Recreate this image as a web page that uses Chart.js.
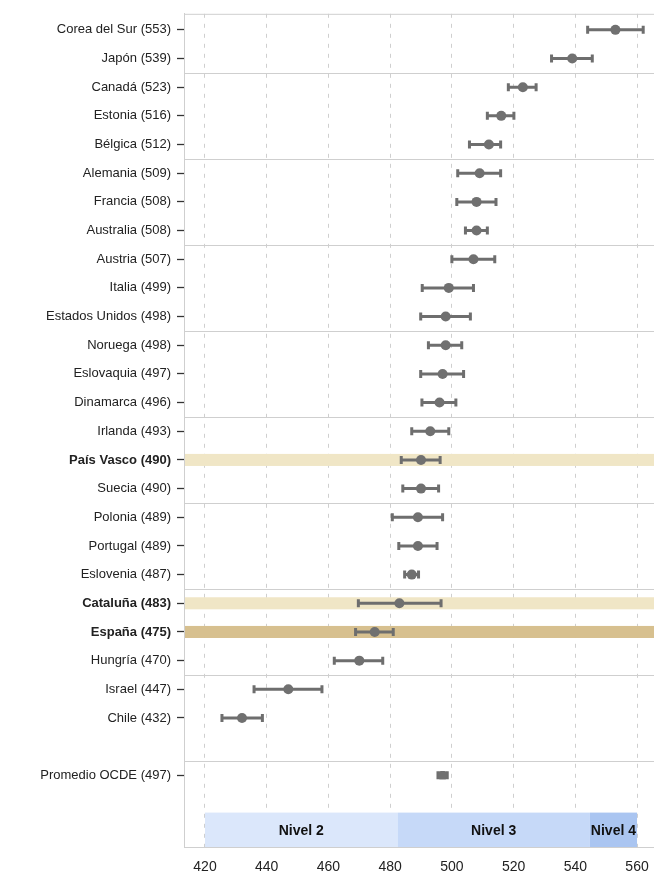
<!DOCTYPE html>
<html>
<head>
  <title>PISA - puntuaciones medias</title>
  <style>
    body { margin: 0; background: #fff; }
    #chart { display: block; }
  </style>
</head>
<body>
  <canvas id="chart" width="654" height="877"></canvas>

  <script src="https://cdn.jsdelivr.net/npm/chart.js"></script>
  <script>
    // data
    const countries = ['Corea del Sur', 'Japón', 'Canadá', 'Estonia', 'Bélgica', 'Alemania', 'Francia', 'Australia',
      'Austria', 'Italia', 'Estados Unidos', 'Noruega', 'Eslovaquia', 'Dinamarca', 'Irlanda', 'País Vasco', 'Suecia',
      'Polonia', 'Portugal', 'Eslovenia', 'Cataluña', 'España', 'Hungría', 'Israel', 'Chile', 'Promedio OCDE'];
    const scores = [553, 539, 523, 516, 512, 509, 508, 508, 507, 499, 498, 498, 497, 496, 493, 490, 490,
      489, 489, 487, 483, 475, 470, 447, 432, 497];
    const lows = [544, 532.3, 518.3, 511.5, 505.7, 501.9, 501.6, 504.4, 500, 490.4, 489.9, 492.4, 489.9, 490.3, 487, 483.6, 484.1,
      480.7, 482.8, 484.7, 469.7, 468.8, 461.9, 435.9, 425.5, 495.5];
    const highs = [562, 545.5, 527.3, 520.1, 515.8, 515.8, 514.3, 511.5, 513.9, 507, 506, 503.2, 503.8, 501.3, 499, 496.2, 495.7,
      497, 495.2, 489.2, 496.5, 481, 477.6, 457.9, 438.6, 498.5];
    const rows = [0, 1, 2, 3, 4, 5, 6, 7, 8, 9, 10, 11, 12, 13, 14, 15, 16, 17, 18, 19, 20, 21, 22, 23, 24, 26];
    const boldRows = ['País Vasco', 'Cataluña', 'España'];
    const lightRows = ['País Vasco', 'Cataluña'];
    const darkRows = ['España'];
    const separators = [1.5, 4.5, 7.5, 10.5, 13.5, 16.5, 19.5, 22.5, 25.5];
    const xTicks = [420, 440, 460, 480, 500, 520, 540, 560];
    const levelNames = ['Nivel 2', 'Nivel 3', 'Nivel 4'];
    const levelFrom = [420, 482.4, 544.7];
    const levelTo = [482.4, 544.7, 560];
    const levelColors = ['#dbe7fb', '#c6d9f8', '#aac5f1'];

    const FONT = "'Liberation Sans', Arial, sans-serif";
    const labelFor = v => {
      const i = rows.indexOf(v);
      return i < 0 ? '' : countries[i] + ' (' + Math.round(scores[i]) + ')';
    };

    // separators, highlight rows, level band and error bars
    const extras = {
      id: 'extras',
      beforeDatasetsDraw(chart) {
        const { ctx, chartArea: a, scales: { x, y } } = chart;
        ctx.save();

        ctx.strokeStyle = '#cfcfcf';
        ctx.lineWidth = 1;
        [a.top + 0.5].concat(separators.map(s => Math.round(y.getPixelForValue(s)) + 0.5)).forEach(py => {
          ctx.beginPath();
          ctx.moveTo(a.left, py);
          ctx.lineTo(a.right, py);
          ctx.stroke();
        });

        countries.forEach((c, i) => {
          let col = null;
          if (lightRows.includes(c)) col = '#f0e6c6';
          if (darkRows.includes(c)) col = '#d7c08f';
          if (!col) return;
          const top = y.getPixelForValue(rows[i] - 0.21);
          const bot = y.getPixelForValue(rows[i] + 0.21);
          ctx.fillStyle = col;
          ctx.fillRect(a.left + 1, top, a.right - a.left, bot - top);
        });

        const bTop = y.getPixelForValue(27.3);
        levelNames.forEach((n, i) => {
          const l = x.getPixelForValue(levelFrom[i]);
          const r = x.getPixelForValue(levelTo[i]);
          ctx.fillStyle = levelColors[i];
          ctx.fillRect(l, bTop, r - l, a.bottom - bTop);
        });
        ctx.fillStyle = '#111';
        ctx.font = 'bold 14px ' + FONT;
        ctx.textAlign = 'center';
        ctx.textBaseline = 'middle';
        levelNames.forEach((n, i) => {
          const cx = (x.getPixelForValue(levelFrom[i]) + x.getPixelForValue(levelTo[i])) / 2;
          ctx.fillText(n, cx, (bTop + a.bottom) / 2 + 1);
        });

        ctx.strokeStyle = '#6e6e6e';
        ctx.lineWidth = 3;
        rows.forEach((r, i) => {
          const py = y.getPixelForValue(r);
          const l = x.getPixelForValue(lows[i]);
          const h = x.getPixelForValue(highs[i]);
          ctx.beginPath();
          ctx.moveTo(l, py);
          ctx.lineTo(h, py);
          ctx.moveTo(l, py - 4);
          ctx.lineTo(l, py + 4);
          ctx.moveTo(h, py - 4);
          ctx.lineTo(h, py + 4);
          ctx.stroke();
        });
        ctx.restore();
      }
    };

    new Chart(document.getElementById('chart'), {
      type: 'scatter',
      data: {
        datasets: [{
          data: scores.map((v, i) => ({ x: v, y: rows[i] })),
          backgroundColor: '#707070',
          borderWidth: 0,
          pointRadius: 5,
          pointStyle: ctx => ctx.dataIndex === rows.length - 1 ? 'rectRounded' : 'circle'
        }]
      },
      options: {
        responsive: false,
        animation: false,
        devicePixelRatio: 1,
        layout: { autoPadding: false, padding: { top: 13, right: 0, bottom: 0, left: 0 } },
        plugins: { legend: { display: false }, tooltip: { enabled: false } },
        scales: {
          x: {
            type: 'linear',
            min: 413.2,
            max: 565.5,
            afterBuildTicks: s => { s.ticks = xTicks.map(v => ({ value: v })); },
            afterFit: s => { s.height = 30; s.paddingLeft = 0; s.paddingRight = 0; },
            grid: { color: '#cfcfcf', drawTicks: false, tickBorderDash: [4, 6] },
            border: { color: '#cfcfcf', dash: [4, 6], display: true },
            ticks: { color: '#222', padding: 12, font: { family: FONT, size: 14 } }
          },
          y: {
            type: 'linear',
            reverse: true,
            min: -0.56,
            max: 28.5,
            afterBuildTicks: s => { s.ticks = rows.map(v => ({ value: v })); },
            afterFit: s => { s.width = 184; },
            grid: { drawOnChartArea: false, drawTicks: true, tickLength: 7, color: '#333', tickWidth: 1.3 },
            border: { color: '#cfcfcf' },
            ticks: {
              color: '#222',
              padding: 6,
              autoSkip: false,
              callback: v => labelFor(v),
              font: ctx => ({
                family: FONT,
                size: 13,
                weight: boldRows.some(b => labelFor(ctx.tick && ctx.tick.value).startsWith(b)) ? 'bold' : 'normal'
              })
            }
          }
        }
      },
      plugins: [extras]
    });
  </script>
</body>
</html>
